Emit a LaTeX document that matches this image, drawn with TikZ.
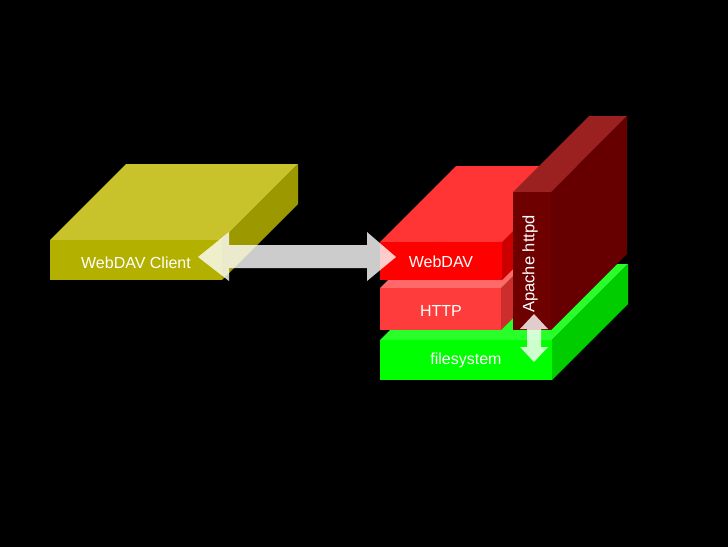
\documentclass[tikz,border=0pt]{standalone}
\usepackage{fontspec}
\setmainfont{Liberation Sans}
\definecolor{yFront}{RGB}{180,176,0}
\definecolor{yTop}{RGB}{200,195,43}
\definecolor{ySide}{RGB}{155,152,0}
\definecolor{rFront}{RGB}{255,0,0}
\definecolor{rTop}{RGB}{255,52,52}
\definecolor{rSide}{RGB}{204,0,0}
\definecolor{hFront}{RGB}{255,60,60}
\definecolor{hTop}{RGB}{255,105,105}
\definecolor{hSide}{RGB}{205,45,45}
\definecolor{aFront}{RGB}{110,0,0}
\definecolor{aTop}{RGB}{155,32,32}
\definecolor{aSide}{RGB}{102,0,0}
\definecolor{gFront}{RGB}{0,255,0}
\definecolor{gTop}{RGB}{40,255,40}
\definecolor{gSide}{RGB}{0,204,0}
\newcommand{\slab}[7]{%
  \fill[#6] (#1,#2) -- ++(76,-76) -- (#3+76,#2-76) -- (#3,#2) -- cycle;
  \fill[#7] (#3,#2) -- ++(76,-76) -- (#3+76,#4-76) -- (#3,#4) -- cycle;
  \fill[#5] (#1,#2) rectangle (#3,#4);}
\tikzset{
  lbl/.style={text=white, font=\fontsize{16}{19}\selectfont, inner sep=0pt},
  blockarrow/.style={fill=white, fill opacity=0.8}
}
\begin{document}
\begin{tikzpicture}[x=1pt,y=-1pt]
\fill[black] (0,0) rectangle (728,547);
\useasboundingbox (0,0) rectangle (728,547);
% WebDAV client
\slab{50}{240}{222}{280}{yFront}{yTop}{ySide}
% filesystem
\slab{380}{340}{552}{380}{gFront}{gTop}{gSide}
% HTTP
\slab{380}{288}{501}{330}{hFront}{hTop}{hSide}
% WebDAV
\slab{380}{242}{502}{280}{rFront}{rTop}{rSide}
% Apache httpd
\slab{513}{192}{551}{330}{aFront}{aTop}{aSide}
% horizontal double arrow
\coordinate (hl) at (198,257);
\coordinate (hr) at (396,257);
\fill[blockarrow] (hl) -- (229,232) -- (229,245) -- (367,245) -- (367,232) -- (hr)
  -- (367,281) -- (367,268) -- (229,268) -- (229,281) -- cycle;
% vertical double arrow
\coordinate (vt) at (534,314);
\coordinate (vb) at (534,362);
\fill[blockarrow] (vt) -- (548,329) -- (541,329) -- (541,347) -- (548,347) -- (vb)
  -- (520,347) -- (527,347) -- (527,329) -- (520,329) -- cycle;
% labels
\node[lbl, anchor=base] (client) at (136,268) {WebDAV Client};
\node[lbl, anchor=base] (webdav) at (441,267) {WebDAV};
\node[lbl, anchor=base] (http) at (441,316) {HTTP};
\node[lbl, anchor=base] (fs) at (466,364) {filesystem};
\node[lbl, rotate=90, font=\fontsize{16.5}{19}\selectfont] (apache) at (530,264) {Apache httpd};
\end{tikzpicture}
\end{document}
